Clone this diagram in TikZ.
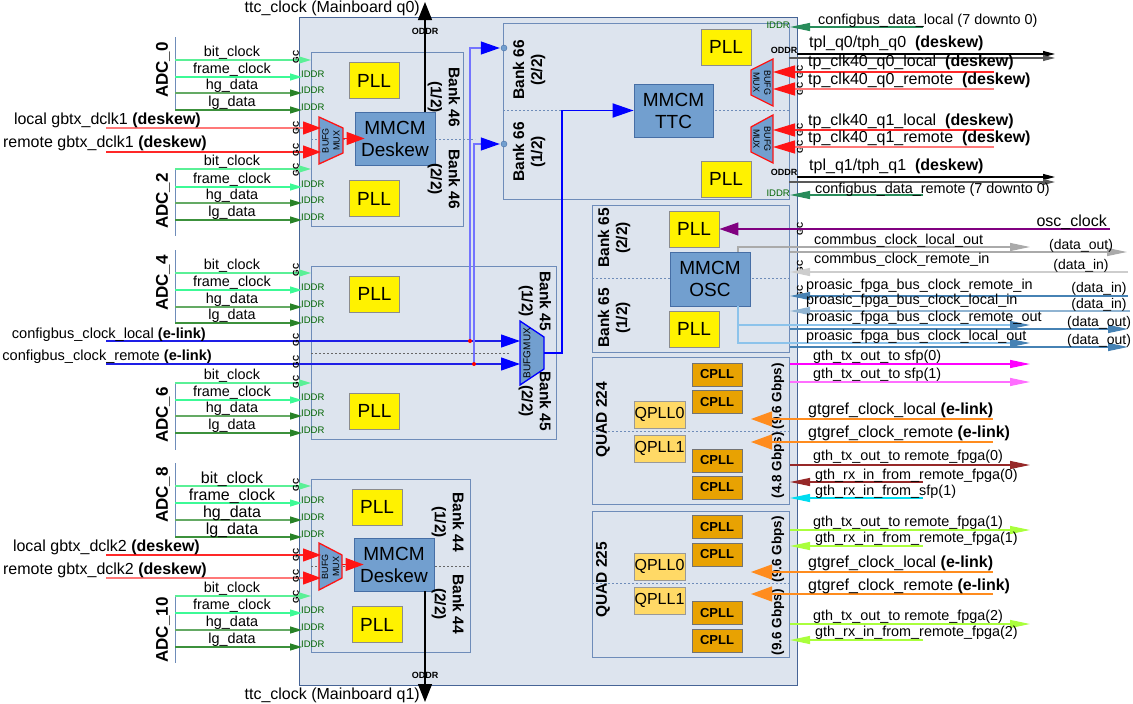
\documentclass[tikz,border=0pt]{standalone}
\usepackage{fontspec}
\setmainfont{Liberation Sans}
\usetikzlibrary{arrows.meta,positioning,calc}

\definecolor{fpgafill}{RGB}{221,228,238}
\definecolor{fpgaline}{RGB}{70,100,150}
\definecolor{bankline}{RGB}{110,140,185}
\definecolor{mmcmfill}{RGB}{114,159,207}
\definecolor{mmcmline}{RGB}{70,110,165}
\definecolor{cpllfill}{RGB}{232,162,2}
\definecolor{qpllfill}{RGB}{255,217,102}
\definecolor{bitclk}{RGB}{90,240,150}
\definecolor{frameclk}{RGB}{60,250,150}
\definecolor{hgdat}{RGB}{100,170,100}
\definecolor{lgdat}{RGB}{60,145,60}
\definecolor{datahead}{RGB}{40,130,40}
\definecolor{iddrtxt}{RGB}{0,100,0}
\definecolor{arrred}{RGB}{255,20,20}
\definecolor{gbtxred}{RGB}{255,40,40}
\definecolor{gbtxlt}{RGB}{255,120,120}
\definecolor{cfgblue}{RGB}{30,30,230}
\definecolor{cfgdata}{RGB}{40,140,90}
\definecolor{oscpurple}{RGB}{128,0,128}
\definecolor{commgray}{RGB}{170,170,170}
\definecolor{commlt}{RGB}{205,205,205}
\definecolor{proline}{RGB}{70,130,180}
\definecolor{prolt}{RGB}{140,195,235}
\definecolor{txmag}{RGB}{255,0,255}
\definecolor{txpink}{RGB}{255,110,255}
\definecolor{gtorange}{RGB}{255,140,30}
\definecolor{rxdark}{RGB}{150,40,40}
\definecolor{rxcyan}{RGB}{0,220,240}
\definecolor{rxlime}{RGB}{170,255,60}

\tikzset{
  fpgabox/.style={rectangle,draw=fpgaline,fill=fpgafill,line width=0.9pt,inner sep=0pt},
  bankbox/.style={rectangle,draw=bankline,fill=fpgafill,line width=0.9pt,inner sep=0pt},
  pllbox/.style={rectangle,draw=black!45,fill=yellow,line width=0.8pt,
                 minimum width=50pt,minimum height=36pt,inner sep=0pt,
                 font=\fontsize{19}{21}\selectfont},
  mmcmbox/.style={rectangle,draw=mmcmline,fill=mmcmfill,line width=0.8pt,
                  minimum width=80pt,minimum height=53pt,inner sep=0pt,align=center,
                  font=\fontsize{19}{22}\selectfont},
  cpllbox/.style={rectangle,draw=black!55,fill=cpllfill,line width=0.8pt,
                  minimum width=50pt,minimum height=23pt,inner sep=0pt,
                  font=\bfseries\fontsize{13}{14}\selectfont},
  qpllbox/.style={rectangle,draw=black!40,fill=qpllfill,line width=0.8pt,
                  minimum width=51pt,minimum height=27pt,inner sep=0pt,
                  font=\fontsize{16}{17}\selectfont},
  muxshape/.style={fill=mmcmfill,draw=arrred,line width=1.3pt},
  muxlbl/.style={inner sep=0pt,align=center,font=\fontsize{9}{11}\selectfont},
  port/.style={circle,fill=mmcmfill,draw=mmcmline,minimum size=6pt,inner sep=0pt},
  banklbl/.style={inner sep=0pt,align=center,font=\bfseries\fontsize{15.5}{18}\selectfont},
  gbpslbl/.style={rotate=90,inner sep=0pt,font=\bfseries\fontsize{13.5}{15}\selectfont},
  adclbl/.style={rotate=90,inner sep=0pt,font=\bfseries\fontsize{17}{18}\selectfont},
  siglbl/.style={inner sep=0pt,font=\fontsize{14.4}{16}\selectfont},
  biglbl/.style={inner sep=0pt,font=\fontsize{16}{18}\selectfont},
  datalbl/.style={inner sep=0pt,font=\fontsize{14}{16}\selectfont},
  gclbl/.style={rotate=90,inner sep=0pt,font=\bfseries\fontsize{8.5}{9}\selectfont},
  iddrlbl/.style={inner sep=0pt,text=iddrtxt,font=\fontsize{9.5}{10}\selectfont},
  oddrlbl/.style={inner sep=0pt,font=\bfseries\fontsize{9}{10}\selectfont},
  divline/.style={draw=bankline,line width=0.8pt,dash pattern=on 2pt off 2pt},
  divgray/.style={draw=black!60,line width=1pt,dash pattern=on 2pt off 2pt},
  adcbar/.style={draw=bankline,line width=1pt},
  smallarr/.style={-{Triangle[length=12pt,width=7pt]},line width=1.2pt},
  datarr/.style={-{Triangle[length=12pt,width=7pt,color=datahead]},line width=1.2pt},
  redarr/.style={-{Triangle[length=18pt,width=13pt,color=arrred]},line width=1.2pt},
  tparr/.style={-{Triangle[length=22pt,width=13pt,color=arrred]},line width=1.2pt},
  bluearr/.style={-{Triangle[length=19pt,width=13pt,color=blue]},line width=1.2pt},
  blackarr/.style={-{Triangle[length=18pt,width=14pt]},line width=1.2pt,draw=black},
  tplarr/.style={-{Triangle[length=12pt,width=6pt]},line width=1.1pt,draw=black},
  orangearr/.style={-{Triangle[length=21pt,width=15pt]},line width=1.2pt,draw=gtorange},
  purplearr/.style={-{Triangle[length=19pt,width=13pt]},line width=1.2pt,draw=oscpurple},
  thinarr/.style={-{Triangle[length=20pt,width=8pt]},line width=1.2pt},
}

\begin{document}
\begin{tikzpicture}[x=1pt,y=-1pt]
\useasboundingbox (0,0) rectangle (1133,704);

% ── FPGA outline and banks
\node[fpgabox,minimum width=498pt,minimum height=668pt] (fpga) at (548,351) {};
\node[bankbox,minimum width=152pt,minimum height=174pt] (bank46) at (387,139) {};
\node[bankbox,minimum width=245pt,minimum height=173pt] (bank45) at (433.5,352.5) {};
\node[bankbox,minimum width=159pt,minimum height=173pt] (bank44) at (390.5,565.5) {};
\node[bankbox,minimum width=286pt,minimum height=176pt] (bank66) at (646,111) {};
\node[bankbox,minimum width=197pt,minimum height=147pt] (bank65) at (690.5,278.5) {};
\node[bankbox,minimum width=197pt,minimum height=147pt] (quad224) at (690.5,430.5) {};
\node[bankbox,minimum width=197pt,minimum height=146pt] (quad225) at (690.5,584) {};

% bank halves
\draw[divline] (311,139) -- (475,139);
\draw[divgray] (311,353) -- (510,353);
\draw[divgray] (311,566) -- (470,566);
\draw[divline] (503,110.5) -- (789,110.5);
\draw[divline] (592,278) -- (789,278);
\draw[divline] (592,431) -- (789,431);
\draw[divline] (592,583) -- (789,583);

% ── PLLs and MMCMs
\node[pllbox] (pll46a) at (374,80.5) {PLL};
\node[pllbox] (pll46b) at (374,198.5) {PLL};
\node[pllbox] (pll45a) at (374.5,294) {PLL};
\node[pllbox] (pll45b) at (374.5,411) {PLL};
\node[pllbox] (pll44a) at (377,507) {PLL};
\node[pllbox] (pll44b) at (377,624.5) {PLL};
\node[pllbox] (pll66a) at (726,47) {PLL};
\node[pllbox] (pll66b) at (726,179) {PLL};
\node[pllbox] (pll65a) at (694,229) {PLL};
\node[pllbox] (pll65b) at (694,329) {PLL};

\node[mmcmbox] (mmcm46) at (395,138.5) {MMCM\\Deskew};
\node[mmcmbox] (mmcm44) at (394,564.5) {MMCM\\Deskew};
\node[mmcmbox,minimum width=79pt] (mmcmttc) at (673.5,110.5) {MMCM\\TTC};
\node[mmcmbox,minimum height=54pt] (mmcmosc) at (710,279) {MMCM\\OSC};

% ── Transceiver quads
\foreach \y [count=\i] in {374.5,402,460.5,487.5}
  \node[cpllbox] (cplla\i) at (717,\y) {CPLL};
\foreach \y [count=\i] in {527,554.5,613,640.5}
  \node[cpllbox] (cpllb\i) at (717,\y) {CPLL};
\node[qpllbox] (qpllaa) at (659.5,414.5) {QPLL0};
\node[qpllbox] (qpllab) at (659.5,448.5) {QPLL1};
\node[qpllbox] (qpllba) at (659.5,566.5) {QPLL0};
\node[qpllbox] (qpllbb) at (659.5,600.5) {QPLL1};

% ── Bank labels
\node[banklbl,rotate=-90] (lb46a) at (444,97) {Bank 46\\(1/2)};
\node[banklbl,rotate=-90] (lb46b) at (444,179) {Bank 46\\(2/2)};
\node[banklbl,rotate=-90] (lb45a) at (535,301) {Bank 45\\(1/2)};
\node[banklbl,rotate=-90] (lb45b) at (535,401) {Bank 45\\(2/2)};
\node[banklbl,rotate=-90] (lb44a) at (448,522) {Bank 44\\(1/2)};
\node[banklbl,rotate=-90] (lb44b) at (448,604) {Bank 44\\(2/2)};
\node[banklbl,rotate=90] (lb66b) at (529,70) {Bank 66\\(2/2)};
\node[banklbl,rotate=90] (lb66a) at (529,152) {Bank 66\\(1/2)};
\node[banklbl,rotate=90] (lb65b) at (614,238) {Bank 65\\(2/2)};
\node[banklbl,rotate=90] (lb65a) at (614,318) {Bank 65\\(1/2)};
\node[banklbl,rotate=90] (lq224) at (603,420) {QUAD 224};
\node[banklbl,rotate=90] (lq225) at (603,580) {QUAD 225};
\node[gbpslbl] (gbps1) at (778,396) {(9.6 Gbps)};
\node[gbpslbl] (gbps2) at (778,465) {(4.8 Gbps)};
\node[gbpslbl] (gbps3) at (778,549) {(9.6 Gbps)};
\node[gbpslbl] (gbps4) at (778,622) {(9.6 Gbps)};

% ── Clock muxes
\draw[muxshape] (319,117) -- (343,128) -- (343,153) -- (319,164) -- cycle;
\node[muxlbl,rotate=90] (mux46) at (331,140.5) {BUFG\\MUX};
\draw[muxshape] (319,543) -- (342,555) -- (342,578) -- (319,590) -- cycle;
\node[muxlbl,rotate=90] (mux44) at (330.5,566.5) {BUFG\\MUX};
\draw[muxshape] (773,59) -- (751,70) -- (751,95) -- (773,106) -- cycle;
\node[muxlbl,rotate=-90] (mux66a) at (762,82.5) {BUFG\\MUX};
\draw[muxshape] (773,115) -- (751,127) -- (751,152) -- (773,163) -- cycle;
\node[muxlbl,rotate=-90] (mux66b) at (762,139) {BUFG\\MUX};
\draw[muxshape,draw=blue] (520,321) -- (544,337) -- (544,369) -- (520,385) -- cycle;
\node[muxlbl,rotate=90,font=\fontsize{10}{11}\selectfont] (mux45) at (527,353) {BUFGMUX};

% ── Deskew inputs
\coordinate (dk1a) at (106,128);
\coordinate (dk1b) at (106,152);
\coordinate (m46a) at (321,128);
\coordinate (m46b) at (321,152);
\coordinate (m46o) at (343,138.5);
\draw[redarr,draw=gbtxlt] (dk1a) -- (m46a);
\draw[redarr,draw=gbtxred] (dk1b) -- (m46b);
\draw[redarr,draw=arrred] (m46o) -- ([xshift=10pt]mmcm46.west);
\node[biglbl,anchor=east] (dk1at) at (201,120) {local gbtx\_dclk1 \textbf{(deskew)}};
\node[biglbl,anchor=east] (dk1bt) at (207,143) {remote gbtx\_dclk1 \textbf{(deskew)}};

\coordinate (dk2a) at (106,555);
\coordinate (dk2b) at (106,578);
\coordinate (m44a) at (321,555);
\coordinate (m44b) at (321,578);
\coordinate (m44o) at (342,564.5);
\draw[redarr,draw=gbtxred] (dk2a) -- (m44a);
\draw[redarr,draw=gbtxlt] (dk2b) -- (m44b);
\draw[redarr,draw=arrred] (m44o) -- ([xshift=10pt]mmcm44.west);
\node[biglbl,anchor=east] (dk2at) at (200,547) {local gbtx\_dclk2 \textbf{(deskew)}};
\node[biglbl,anchor=east] (dk2bt) at (207,570) {remote gbtx\_dclk2 \textbf{(deskew)}};

% ── Config bus clocks
\coordinate (cfga) at (106,341);
\coordinate (cfgb) at (106,364);
\coordinate (m45a) at (520,341);
\coordinate (m45b) at (520,364);
\coordinate (m45o) at (544,353);
\coordinate (jn1) at (470,341);
\coordinate (jn2) at (474,364);
\draw[bluearr,draw=cfgblue] (cfga) -- (m45a);
\draw[bluearr,draw=cfgblue] (cfgb) -- (m45b);
\node[port] (p66b) at (504,48) {};
\node[port] (p66a) at (504,144) {};
\draw[bluearr,draw=blue!55,shorten >=1pt] (jn1) |- (p66b);
\draw[bluearr,draw=blue!55,shorten >=1pt] (jn2) |- (p66a);
\fill[red] (jn1) circle (2pt);
\fill[red] (jn2) circle (2pt);
\draw[-{Triangle[length=21pt,width=14pt]},draw=blue,line width=1.8pt]
  (m45o) -- ++(18,0) |- (mmcmttc.west);
\node[siglbl,anchor=east,font=\fontsize{14.6}{17}\selectfont] (cfgat) at (206,335)
  {configbus\_clock\_local \textbf{(e-link)}};
\node[siglbl,anchor=east,font=\fontsize{14.6}{17}\selectfont] (cfgbt) at (212,357)
  {configbus\_clock\_remote \textbf{(e-link)}};

% ── TTC clock outputs
\coordinate (ttcq0) at (425,2);
\coordinate (ttcq1) at (425,702);
\draw[blackarr] (mmcm46.north -| ttcq0) -- (ttcq0);
\draw[blackarr] (mmcm44.south -| ttcq1) -- (ttcq1);
\node[oddrlbl] (oddr0) at (425,31) {ODDR};
\node[oddrlbl] (oddr1) at (425,675) {ODDR};
\node[biglbl,anchor=east] (ttc0t) at (420,8) {ttc\_clock (Mainboard q0)};
\node[biglbl,anchor=east] (ttc1t) at (420,695) {ttc\_clock (Mainboard q1)};

% ── ADC links
\foreach \n/\yt/\yb/\ya/\yf/\yh/\yl/\ly/\fs in {
    0/37/110/60/77/93/110/70/14.4,
    2/168/236/169/187/203/220/201/14.4,
    4/250/323/273/290/307/323/283/14.4,
    6/382/450/383/400/416/433/415/14.4,
    8/463/537/486/503/520/537/495/16,
    10/595/663/596/613/630/647/630/14.4}{
  \coordinate (adc\n t) at (175,\yt);
  \coordinate (adc\n b) at (175,\yb);
  \draw[adcbar] (adc\n t) -- (adc\n b);
  \node[adclbl] (adc\n) at (163,\ly) {ADC\_\n};
  % bit clock to GC pin
  \coordinate (bc\n) at (175,\ya);
  \coordinate (bcx\n) at (311,\ya);
  \draw[smallarr,bitclk] (bc\n) -- (bcx\n);
  \node[siglbl,font=\fontsize{\fs}{17}\selectfont] (bcl\n) at (232,\ya-7) {bit\_clock};
  % frame clock and data to IDDR
  \coordinate (fc\n) at (175,\yf);
  \coordinate (fcx\n) at (302,\yf);
  \draw[smallarr,frameclk] (fc\n) -- (fcx\n);
  \node[siglbl,font=\fontsize{\fs}{17}\selectfont] (fcl\n) at (232,\yf-7) {frame\_clock};
  \node[iddrlbl,anchor=west] (fci\n) at (301,\yf-3) {IDDR};
  \coordinate (hg\n) at (175,\yh);
  \coordinate (hgx\n) at (302,\yh);
  \draw[datarr,hgdat] (hg\n) -- (hgx\n);
  \node[siglbl,font=\fontsize{\fs}{17}\selectfont] (hgl\n) at (232,\yh-7) {hg\_data};
  \node[iddrlbl,anchor=west] (hgi\n) at (301,\yh-3) {IDDR};
  \coordinate (lg\n) at (175,\yl);
  \coordinate (lgx\n) at (302,\yl);
  \draw[datarr,lgdat] (lg\n) -- (lgx\n);
  \node[siglbl,font=\fontsize{\fs}{17}\selectfont] (lgl\n) at (232,\yl-7) {lg\_data};
  \node[iddrlbl,anchor=west] (lgi\n) at (301,\yl-3) {IDDR};
}

% ── GC pins
\foreach \y [count=\i] in {57,128,150,170,270,340,362,382,485,555,576,597}
  \node[gclbl] (gcl\i) at (296,\y) {GC};
\foreach \y [count=\i] in {72,89,130,147,229,267,292}
  \node[gclbl] (gcr\i) at (800,\y) {GC};

% ── Bank 66 ports
\coordinate (cdlx) at (923,27);
\coordinate (cdli) at (790,27);
\draw[thinarr,cfgdata] (cdlx) -- (cdli);
\node[iddrlbl,anchor=east] (cdlid) at (790,25) {IDDR};
\node[siglbl,anchor=west] (cdlt) at (818,21) {configbus\_data\_local (7 downto 0)};

\coordinate (tq0a) at (797,54);
\coordinate (tq0b) at (789,58);
\coordinate (tq0x) at (1055,56);
\draw[tplarr] (tq0a) -- (tq0a -| tq0x);
\draw[tplarr,draw=black!65] (tq0b) -- (tq0b -| tq0x);
\node[oddrlbl] (tq0o) at (784,50) {ODDR};
\node[biglbl,anchor=west] (tq0t) at (809,43) {tpl\_q0/tph\_q0\ \ \textbf{(deskew)}};

\coordinate (ck0a) at (994,72);
\coordinate (ck0b) at (994,89);
\coordinate (ck1a) at (994,130);
\coordinate (ck1b) at (994,147);
\coordinate (m66aa) at (773,72);
\coordinate (m66ab) at (773,89);
\coordinate (m66ba) at (773,130);
\coordinate (m66bb) at (773,147);
\draw[tparr,draw=gbtxred] (ck0a) -- (m66aa);
\draw[tparr,draw=gbtxlt] (ck0b) -- (m66ab);
\draw[tparr,draw=gbtxred] (ck1a) -- (m66ba);
\draw[tparr,draw=gbtxlt] (ck1b) -- (m66bb);
\node[biglbl,anchor=west] (ck0at) at (808,62) {tp\_clk40\_q0\_local\ \ \textbf{(deskew)}};
\node[biglbl,anchor=west] (ck0bt) at (808,80) {tp\_clk40\_q0\_remote\ \ \textbf{(deskew)}};
\node[biglbl,anchor=west] (ck1at) at (808,121) {tp\_clk40\_q1\_local\ \ \textbf{(deskew)}};
\node[biglbl,anchor=west] (ck1bt) at (808,138) {tp\_clk40\_q1\_remote\ \ \textbf{(deskew)}};

\coordinate (tq1a) at (797,177);
\coordinate (tq1b) at (789,182);
\coordinate (tq1x) at (1055,179);
\draw[tplarr] (tq1a) -- (tq1a -| tq1x);
\draw[tplarr,draw=black!65] (tq1b) -- (tq1b -| tq1x);
\node[oddrlbl] (tq1o) at (784,172) {ODDR};
\node[biglbl,anchor=west] (tq1t) at (809,166) {tpl\_q1/tph\_q1\ \ \textbf{(deskew)}};

\coordinate (cdrx) at (923,195);
\coordinate (cdri) at (790,195);
\draw[thinarr,cfgdata] (cdrx) -- (cdri);
\node[iddrlbl,anchor=east] (cdrid) at (790,193) {IDDR};
\node[siglbl,anchor=west] (cdrt) at (815,190) {configbus\_data\_remote (7 downto 0)};

% ── Bank 65 ports
\coordinate (oscin) at (1110,229);
\draw[purplearr] (oscin) -- (pll65a.east);
\node[biglbl,anchor=east] (osct) at (1107,222) {osc\_clock};

\coordinate (clo) at (1030,247);
\coordinate (clda) at (790,252);
\coordinate (cldb) at (1127,252);
\draw[thinarr,commgray] ([xshift=28pt]mmcmosc.north) |- (clo);
\draw[thinarr,commgray] (clda) -- (cldb);
\node[siglbl,anchor=west] (clot) at (814,241) {commbus\_clock\_local\_out};
\node[datalbl] (clod) at (1081,246) {(data\_out)};

\coordinate (cri) at (1128,272);
\coordinate (crix) at (790,272);
\draw[thinarr,commlt] (cri) -- (crix);
\node[siglbl,anchor=west] (crit) at (814,260) {commbus\_clock\_remote\_in};
\node[datalbl] (crid) at (1081,266) {(data\_in)};

\coordinate (pri) at (1128,296);
\coordinate (prix) at (790,296);
\draw[thinarr,proline] (pri) -- (prix);
\node[siglbl,anchor=west] (prit) at (806,286) {proasic\_fpga\_bus\_clock\_remote\_in};
\node[datalbl] (prid) at (1099,289) {(data\_in)};

\coordinate (pli) at (1130,311);
\coordinate (plix) at (790,311);
\draw[thinarr,proline!60] (pli) -- (plix);
\node[siglbl,anchor=west] (plit) at (806,301) {proasic\_fpga\_bus\_clock\_local\_in};
\node[datalbl] (plid) at (1099,305) {(data\_in)};

\coordinate (pro) at (1030,325);
\coordinate (proda) at (790,329);
\coordinate (prodb) at (1128,329);
\draw[thinarr,draw=prolt,-{Triangle[length=20pt,width=8pt,color=proline]}]
  ([xshift=28pt]mmcmosc.south) |- (pro);
\draw[thinarr,proline] (proda) -- (prodb);
\node[siglbl,anchor=west] (prot) at (806,318) {proasic\_fpga\_bus\_clock\_remote\_out};
\node[datalbl] (prod) at (1099,323) {(data\_out)};

\coordinate (plo) at (1030,343);
\coordinate (ploda) at (790,347);
\coordinate (plodb) at (1128,347);
\draw[thinarr,draw=prolt,-{Triangle[length=20pt,width=8pt,color=proline]}]
  ([xshift=28pt]mmcmosc.south) |- (plo);
\draw[thinarr,proline] (ploda) -- (plodb);
\node[siglbl,anchor=west] (plot) at (806,337) {proasic\_fpga\_bus\_clock\_local\_out};
\node[datalbl] (plod) at (1099,341) {(data\_out)};

% ── QUAD 224 ports
\coordinate (sfp0a) at (790,364);
\coordinate (sfp0b) at (1030,364);
\draw[thinarr,txmag] (sfp0a) -- (sfp0b);
\node[siglbl,anchor=west] (sfp0t) at (813,357) {gth\_tx\_out\_to sfp(0)};
\coordinate (sfp1a) at (790,382);
\coordinate (sfp1b) at (1030,382);
\draw[thinarr,txpink] (sfp1a) -- (sfp1b);
\node[siglbl,anchor=west] (sfp1t) at (813,375) {gth\_tx\_out\_to sfp(1)};

\coordinate (gra) at (993,419);
\coordinate (grai) at (751,419);
\draw[orangearr] (gra) -- (grai);
\node[biglbl,anchor=west] (grat) at (808,410) {gtgref\_clock\_local \textbf{(e-link)}};
\coordinate (grb) at (993,442);
\coordinate (grbi) at (751,442);
\draw[orangearr] (grb) -- (grbi);
\node[biglbl,anchor=west] (grbt) at (808,433) {gtgref\_clock\_remote \textbf{(e-link)}};

\coordinate (tx0a) at (790,465);
\coordinate (tx0b) at (1030,465);
\draw[thinarr,rxdark] (tx0a) -- (tx0b);
\node[siglbl,anchor=west] (tx0t) at (813,457) {gth\_tx\_out\_to remote\_fpga(0)};
\coordinate (rx0a) at (923,482);
\coordinate (rx0b) at (790,482);
\draw[thinarr,rxdark] (rx0a) -- (rx0b);
\node[siglbl,anchor=west] (rx0t) at (815,476) {gth\_rx\_in\_from\_remote\_fpga(0)};
\coordinate (rxsa) at (923,498);
\coordinate (rxsb) at (790,498);
\draw[thinarr,rxcyan] (rxsa) -- (rxsb);
\node[siglbl,anchor=west] (rxst) at (815,492) {gth\_rx\_in\_from\_sfp(1)};

% ── QUAD 225 ports
\coordinate (tx1a) at (790,530);
\coordinate (tx1b) at (1030,530);
\draw[thinarr,rxlime] (tx1a) -- (tx1b);
\node[siglbl,anchor=west] (tx1t) at (813,523) {gth\_tx\_out\_to remote\_fpga(1)};
\coordinate (rx1a) at (923,546);
\coordinate (rx1b) at (790,546);
\draw[thinarr,rxlime] (rx1a) -- (rx1b);
\node[siglbl,anchor=west] (rx1t) at (815,539) {gth\_rx\_in\_from\_remote\_fpga(1)};

\coordinate (grc) at (993,572);
\coordinate (grci) at (751,572);
\draw[orangearr] (grc) -- (grci);
\node[biglbl,anchor=west] (grct) at (808,563) {gtgref\_clock\_local \textbf{(e-link)}};
\coordinate (grd) at (993,594);
\coordinate (grdi) at (751,594);
\draw[orangearr] (grd) -- (grdi);
\node[biglbl,anchor=west] (grdt) at (808,586) {gtgref\_clock\_remote \textbf{(e-link)}};

\coordinate (tx2a) at (790,624);
\coordinate (tx2b) at (1030,624);
\draw[thinarr,rxlime] (tx2a) -- (tx2b);
\node[siglbl,anchor=west] (tx2t) at (813,617) {gth\_tx\_out\_to remote\_fpga(2)};
\coordinate (rx2a) at (923,640);
\coordinate (rx2b) at (790,640);
\draw[thinarr,rxlime] (rx2a) -- (rx2b);
\node[siglbl,anchor=west] (rx2t) at (815,633) {gth\_rx\_in\_from\_remote\_fpga(2)};

\end{tikzpicture}
\end{document}
